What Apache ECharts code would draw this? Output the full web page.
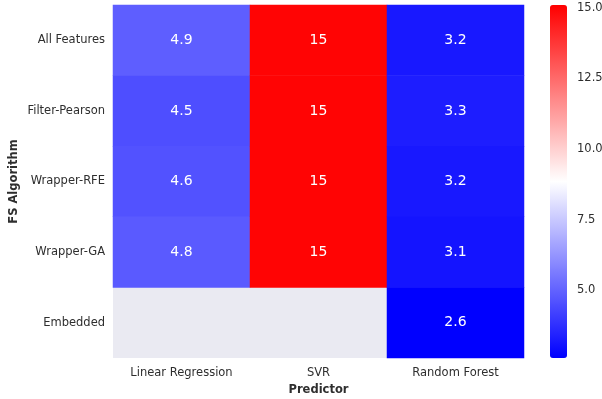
<!DOCTYPE html>
<html>
<head>
<meta charset="utf-8">
<script src="https://cdn.jsdelivr.net/npm/echarts@6/dist/echarts.min.js"></script>
<style>
  html, body { margin: 0; padding: 0; background: #ffffff; overflow: hidden; }
  #chart { width: 602px; height: 399px; }
</style>
</head>
<body>
<div id="chart"></div>
<script>
// Predictors (columns) and feature-selection algorithms (rows)
const predictors = ['Linear Regression', 'SVR', 'Random Forest'];
const fsAlgorithms = ['All Features', 'Filter-Pearson', 'Wrapper-RFE', 'Wrapper-GA', 'Embedded'];

// Error values per predictor, one entry per FS algorithm (null = not evaluated)
const linearRegression = [4.9, 4.5, 4.6, 4.8, null];
const svr = [15, 15, 15, 15, null];
const randomForest = [3.2, 3.3, 3.2, 3.1, 2.6];

// Colour bar range and tick labels
const colorMin = 2.6;
const colorMax = 15.1;
const colorTicks = [5.0, 7.5, 10.0, 12.5, 15.0];

const columns = [linearRegression, svr, randomForest];
const cells = [];
columns.forEach((col, xi) => {
  col.forEach((v, yi) => {
    if (v !== null) cells.push([xi, yi, v]);
  });
});

const textColor = '#2e2e2e';
const font = 'DejaVu Sans';
const labelSize = 11.5;

const chart = echarts.init(document.getElementById('chart'), null, { renderer: 'canvas' });
chart.setOption({
  backgroundColor: '#ffffff',
  animation: false,
  textStyle: { fontFamily: font },
  grid: [
    { left: 113, top: 5, width: 411, height: 353, show: true, backgroundColor: '#eaeaf2', borderWidth: 0, outerBoundsMode: 'none' },
    { left: 550, top: 5, width: 17, height: 353, show: false, outerBoundsMode: 'none' }
  ],
  xAxis: [
    {
      type: 'category', gridIndex: 0, data: predictors, position: 'bottom',
      axisLine: { show: false }, axisTick: { show: false }, splitLine: { show: false },
      axisLabel: { color: textColor, fontSize: labelSize, margin: 9, fontFamily: font },
      name: 'Predictor', nameLocation: 'middle', nameGap: 26, nameMoveOverlap: false,
      nameTextStyle: { color: textColor, fontSize: labelSize, fontWeight: 'bold', fontFamily: font }
    },
    { type: 'value', gridIndex: 1, show: false, min: 0, max: 1 }
  ],
  yAxis: [
    {
      type: 'category', gridIndex: 0, data: fsAlgorithms, inverse: true,
      axisLine: { show: false }, axisTick: { show: false }, splitLine: { show: false },
      axisLabel: { color: textColor, fontSize: labelSize, margin: 8, fontFamily: font },
      name: 'FS Algorithm', nameLocation: 'middle', nameGap: 93, nameRotate: 90, nameMoveOverlap: false,
      nameTextStyle: { color: textColor, fontSize: labelSize, fontWeight: 'bold', fontFamily: font }
    },
    {
      type: 'value', gridIndex: 1, position: 'right', min: colorMin, max: colorMax,
      axisLine: { show: false }, axisTick: { show: false }, splitLine: { show: false },
      axisLabel: {
        color: textColor, fontSize: labelSize, margin: 10, fontFamily: font,
        customValues: colorTicks,
        formatter: v => v.toFixed(1)
      }
    }
  ],
  visualMap: {
    type: 'continuous',
    seriesIndex: 0,
    min: colorMin, max: colorMax,
    calculable: false,
    orient: 'vertical',
    left: 550, top: 5,
    padding: 0,
    itemWidth: 17, itemHeight: 353,
    text: null,
    showLabel: false,
    inRange: { color: ['#0000ff', '#ffffff', '#ff0000'] }
  },
  series: [{
    type: 'heatmap',
    xAxisIndex: 0, yAxisIndex: 0,
    data: cells,
    itemStyle: { borderWidth: 0 },
    label: {
      show: true, color: '#ffffff', fontSize: 14, fontFamily: font,
      formatter: p => String(Number(p.value[2].toPrecision(2)))
    },
    emphasis: { disabled: true }
  }]
});
</script>
</body>
</html>
